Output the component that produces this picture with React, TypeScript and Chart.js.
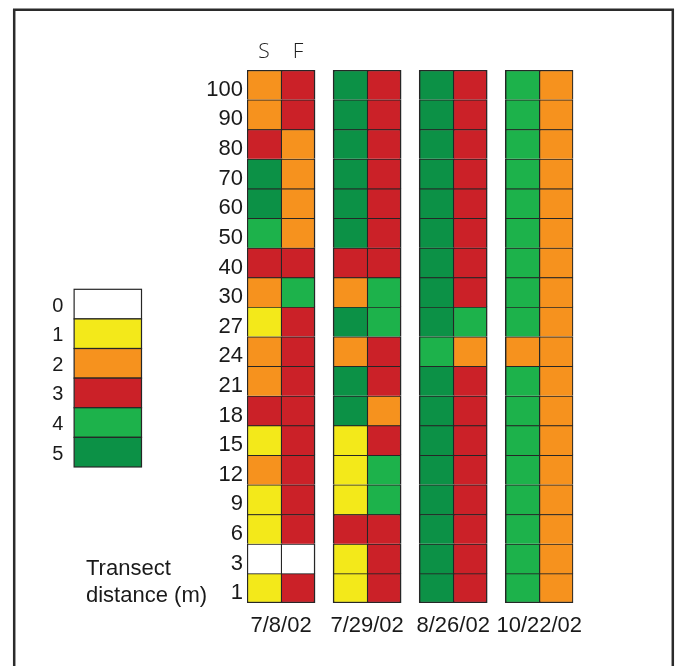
import React, { useEffect, useRef } from 'react';
import { Chart, registerables } from 'chart.js';

Chart.register(...registerables);

// ---- data ----
const distances = ['100', '90', '80', '70', '60', '50', '40', '30', '27', '24', '21', '18', '15', '12', '9', '6', '3', '1'];
const dates = ['7/8/02', '7/29/02', '8/26/02', '10/22/02'];
const sideLabels = ['S', 'F'];
const legendCodes = [0, 1, 2, 3, 4, 5];
const codeColors = ['#ffffff', '#f3e91a', '#f6921e', '#cb2128', '#1db24b', '#0c9146'];

const s0708 = [2, 2, 3, 5, 5, 4, 3, 2, 1, 2, 2, 3, 1, 2, 1, 1, 0, 1];
const f0708 = [3, 3, 2, 2, 2, 2, 3, 4, 3, 3, 3, 3, 3, 3, 3, 3, 0, 3];
const s0729 = [5, 5, 5, 5, 5, 5, 3, 2, 5, 2, 5, 5, 1, 1, 1, 3, 1, 1];
const f0729 = [3, 3, 3, 3, 3, 3, 3, 4, 4, 3, 3, 2, 3, 4, 4, 3, 3, 3];
const s0826 = [5, 5, 5, 5, 5, 5, 5, 5, 5, 4, 5, 5, 5, 5, 5, 5, 5, 5];
const f0826 = [3, 3, 3, 3, 3, 3, 3, 3, 4, 2, 3, 3, 3, 3, 3, 3, 3, 3];
const s1022 = [4, 4, 4, 4, 4, 4, 4, 4, 4, 2, 4, 4, 4, 4, 4, 4, 4, 4];
const f1022 = [2, 2, 2, 2, 2, 2, 2, 2, 2, 2, 2, 2, 2, 2, 2, 2, 2, 2];

const columns = [s0708, f0708, s0729, f0729, s0826, f0826, s1022, f1022];

// ---- layout constants ----
const GROUP_STEP = 86 / 34;
const colX = (ci: number) => Math.floor(ci / 2) * GROUP_STEP + (ci % 2);
const X_MIN = -0.5;
const X_MAX = (dates.length - 1) * GROUP_STEP + 1.5;
const LEGEND_TOP = 6.906;
const LEGEND_LEFT = -5.58;
const LEGEND_RIGHT = -3.6;
const LEGEND_LABEL_X = -6.22;
const BORDER = '#262626';
const NUM_FONT = '"Liberation Sans", Arial, sans-serif';

const overlayPlugin = {
  id: 'overlay',
  beforeDraw(chart: any) {
    const { ctx, width, height } = chart;
    ctx.save();
    ctx.fillStyle = '#ffffff';
    ctx.fillRect(0, 0, width, height);
    ctx.restore();
  },
  afterDraw(chart: any) {
    const { ctx } = chart;
    const x = chart.scales.x;
    const y = chart.scales.y;
    ctx.save();
    // legend key
    const l = x.getPixelForValue(LEGEND_LEFT);
    const r = x.getPixelForValue(LEGEND_RIGHT);
    legendCodes.forEach((code, k) => {
      const t = y.getPixelForValue(LEGEND_TOP + k);
      const b = y.getPixelForValue(LEGEND_TOP + k + 1);
      ctx.fillStyle = codeColors[code];
      ctx.fillRect(l, t, r - l, b - t);
      ctx.strokeStyle = BORDER;
      ctx.lineWidth = 1.2;
      ctx.strokeRect(l, t, r - l, b - t);
      ctx.fillStyle = '#1a1a1a';
      ctx.font = `20px ${NUM_FONT}`;
      ctx.textAlign = 'left';
      ctx.textBaseline = 'middle';
      ctx.fillText(String(code), x.getPixelForValue(LEGEND_LABEL_X), (t + b) / 2 + 2);
    });
    // axis caption
    ctx.fillStyle = '#1a1a1a';
    ctx.font = `22px ${NUM_FONT}`;
    ctx.textAlign = 'left';
    ctx.textBaseline = 'alphabetic';
    ctx.fillText('Transect', 86, 575);
    ctx.fillText('distance (m)', 86, 601.5);
    // frame
    ctx.strokeStyle = '#2b2b2b';
    ctx.lineWidth = 2.5;
    ctx.beginPath();
    ctx.moveTo(14.2, 700);
    ctx.lineTo(14.2, 9.8);
    ctx.lineTo(672.8, 9.8);
    ctx.lineTo(672.8, 700);
    ctx.stroke();
    ctx.restore();
  },
};

export default function App() {
  const canvasRef = useRef<HTMLCanvasElement | null>(null);

  useEffect(() => {
    document.body.style.margin = '0';
    const canvas = canvasRef.current;
    if (!canvas) return;

    const lastRow = distances.length - 1;
    const datasets = distances.map((_, r) => ({
      data: columns.map((_, ci) => ({ x: colX(ci), y: [r - 0.5, r + 0.5] })),
      backgroundColor: columns.map((col) => codeColors[col[r]]),
      borderColor: BORDER,
      borderSkipped: false,
      borderWidth: columns.map((_, ci) => ({
        top: r === 0 ? 1.5 : 1.3,
        left: ci % 2 === 0 ? 1.5 : 1.3,
        right: ci % 2 === 1 ? 1.5 : 0,
        bottom: r === lastRow ? 1.5 : 0,
      })),
      grouped: false,
      barPercentage: 1,
      categoryPercentage: 1,
    }));

    const chart = new Chart(canvas, {
      type: 'bar',
      data: { datasets: datasets as any },
      plugins: [overlayPlugin],
      options: {
        animation: false,
        responsive: true,
        maintainAspectRatio: false,
        events: [],
        layout: { padding: { left: 0, right: 102.7, top: 0, bottom: 0 } },
        plugins: { legend: { display: false }, tooltip: { enabled: false } },
        scales: {
          x: {
            type: 'linear',
            position: 'bottom',
            offset: false,
            min: X_MIN,
            max: X_MAX,
            grid: { display: false, drawTicks: false, offset: false },
            border: { display: false },
            afterBuildTicks: (axis: any) => {
              axis.ticks = dates.map((_, g) => ({ value: g * GROUP_STEP + 0.5 }));
            },
            afterFit: (axis: any) => { axis.height = 63; },
            ticks: {
              autoSkip: false,
              maxRotation: 0,
              padding: 10,
              color: '#1a1a1a',
              font: { family: NUM_FONT, size: 22 },
              callback: (_v: any, i: number) => dates[i],
            },
          },
          x2: {
            type: 'linear',
            position: 'top',
            offset: false,
            min: X_MIN,
            max: X_MAX,
            grid: { display: false, drawTicks: false, offset: false },
            border: { display: false },
            afterBuildTicks: (axis: any) => {
              axis.ticks = sideLabels.map((_, i) => ({ value: colX(i) }));
            },
            afterFit: (axis: any) => { axis.height = 70; },
            ticks: {
              autoSkip: false,
              maxRotation: 0,
              padding: 5,
              color: '#1e1e1e',
              font: { family: '"Open Sans", sans-serif', size: 21, weight: '300' },
              callback: (_v: any, i: number) => sideLabels[i],
            },
          },
          y: {
            type: 'linear',
            reverse: true,
            min: -0.5,
            max: distances.length - 0.5,
            grid: { display: false, drawTicks: false },
            border: { display: false },
            afterBuildTicks: (axis: any) => {
              axis.ticks = distances.map((_, i) => ({ value: i }));
            },
            afterFit: (axis: any) => { axis.width = 247; },
            ticks: {
              autoSkip: false,
              padding: 4,
              labelOffset: 5,
              color: '#1a1a1a',
              font: { family: NUM_FONT, size: 22 },
              callback: (v: any) => distances[Math.round(Number(v))],
            },
          },
        },
      } as any,
    });

    return () => chart.destroy();
  }, []);

  return (
    <div style={{ width: 676, height: 666, position: 'relative' }}>
      <canvas ref={canvasRef} />
    </div>
  );
}
